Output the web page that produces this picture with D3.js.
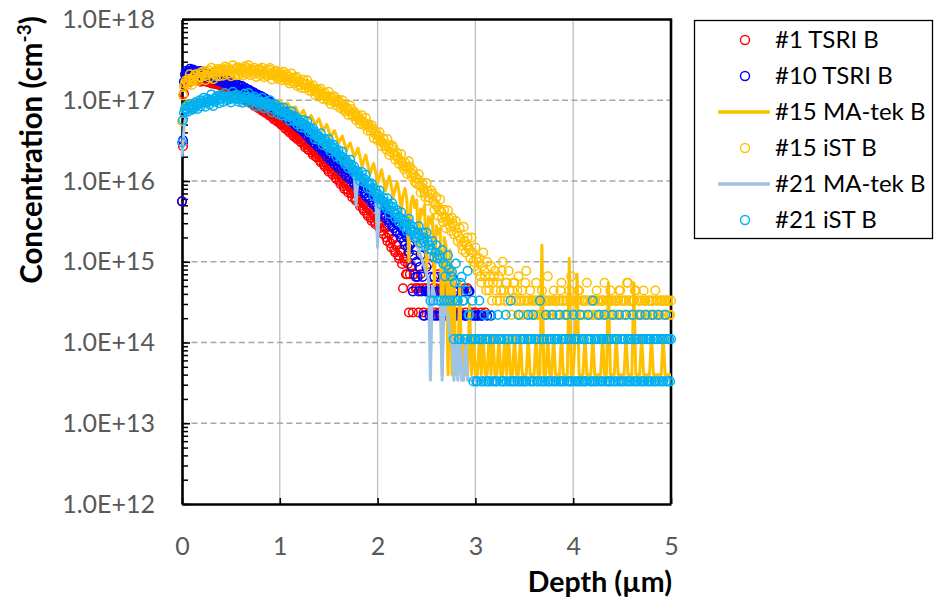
<!DOCTYPE html>
<html>
<head>
<meta charset="utf-8">
<script src="https://cdn.jsdelivr.net/npm/d3@7"></script>
<style>
  html, body { margin: 0; padding: 0; background: #fff; }
  svg { display: block; font-family: Lato, "Open Sans", sans-serif; }
</style>
</head>
<body>
<svg id="chart" width="935" height="603"></svg>
<script>
// Boron SIMS depth profiles. Marker series are sampled every 0.01 µm, line series every 0.02 µm.
// A value of 0 means below detection (not drawn on the log axis).
const markerStep = 0.01;
const lineStep = 0.02;
const depthTicks = [0, 1, 2, 3, 4, 5];
const concTicks = [1e12, 1e13, 1e14, 1e15, 1e16, 1e17, 1e18];
const concTickLabels = ["1.0E+12", "1.0E+13", "1.0E+14", "1.0E+15", "1.0E+16", "1.0E+17", "1.0E+18"];

const seriesNames = ["#1 TSRI B", "#10 TSRI B", "#15 MA-tek B", "#15 iST B", "#21 MA-tek B", "#21 iST B"];
const seriesColors = ["#FF0000", "#0000FF", "#FFC000", "#FFC000", "#9DC3E6", "#00B0F0"];
const seriesKinds = ["circle", "circle", "line", "circle", "line", "circle"];

// #1 TSRI B (cm-3), 0.00 – 3.10 µm
const tsri1B = [
  5.6e15, 2.7e16, 1.2e17, 1.6e17, 1.75e17, 1.85e17, 1.95e17, 1.78e17, 1.7e17, 1.88e17,
  1.9e17, 1.76e17, 1.8e17, 1.95e17, 2.0e17, 1.8e17, 1.75e17, 1.9e17, 1.85e17, 1.7e17,
  1.85e17, 1.78e17, 1.72e17, 1.84e17, 1.9e17, 1.74e17, 1.68e17, 1.78e17, 1.8e17, 1.66e17,
  1.62e17, 1.72e17, 1.75e17, 1.6e17, 1.58e17, 1.68e17, 1.7e17, 1.56e17, 1.55e17, 1.6e17,
  1.55e17, 1.47e17, 1.42e17, 1.52e17, 1.5e17, 1.38e17, 1.35e17, 1.44e17, 1.45e17, 1.33e17,
  1.3e17, 1.36e17, 1.38e17, 1.26e17, 1.22e17, 1.31e17, 1.3e17, 1.18e17, 1.15e17, 1.22e17,
  1.2e17, 1.1e17, 1.08e17, 1.16e17, 1.12e17, 1.02e17, 9.8e16, 1.05e17, 1.05e17, 9.5e16,
  9.2e16, 9.9e16, 9.8e16, 8.9e16, 8.5e16, 9.1e16, 9.0e16, 8.2e16, 8.0e16, 8.6e16,
  8.4e16, 7.7e16, 7.4e16, 8.0e16, 7.9e16, 7.1e16, 6.9e16, 7.4e16, 7.3e16, 6.6e16,
  6.4e16, 6.9e16, 6.8e16, 6.1e16, 5.8e16, 6.3e16, 6.2e16, 5.6e16, 5.4e16, 5.8e16,
  5.6e16, 5.1e16, 4.9e16, 5.3e16, 5.1e16, 4.6e16, 4.4e16, 4.8e16, 4.7e16, 4.2e16,
  4.0e16, 4.4e16, 4.3e16, 3.8e16, 3.6e16, 4.0e16, 3.9e16, 3.4e16, 3.3e16, 3.6e16,
  3.5e16, 3.1e16, 3.0e16, 3.3e16, 3.2e16, 2.8e16, 2.6e16, 2.9e16, 2.8e16, 2.45e16,
  2.4e16, 2.7e16, 2.6e16, 2.25e16, 2.1e16, 2.35e16, 2.3e16, 2.0e16, 1.95e16, 2.15e16,
  2.1e16, 1.8e16, 1.7e16, 1.95e16, 1.85e16, 1.6e16, 1.5e16, 1.72e16, 1.65e16, 1.4e16,
  1.3e16, 1.5e16, 1.5e16, 1.3e16, 1.2e16, 1.4e16, 1.3e16, 1.1e16, 1.05e16, 1.2e16,
  1.2e16, 1.0e16, 9.2e15, 1.1e16, 1.05e16, 8.6e15, 8.0e15, 9.3e15, 9.4e15, 7.8e15,
  7.2e15, 8.4e15, 8.5e15, 7.0e15, 6.3e15, 7.5e15, 7.3e15, 6.0e15, 5.7e15, 6.8e15,
  6.6e15, 5.4e15, 4.9e15, 5.9e15, 5.6e15, 4.6e15, 4.3e15, 5.2e15, 5.0e15, 4.0e15,
  3.7e15, 4.5e15, 4.4e15, 3.5e15, 3.2e15, 4.0e15, 3.8e15, 3.1e15, 2.9e15, 3.4e15,
  3.6e15, 2.9e15, 2.6e15, 3.1e15, 3.0e15, 2.4e15, 2.2e15, 2.7e15, 2.6e15, 2.0e15,
  1.8e15, 2.3e15, 2.2e15, 1.7e15, 1.5e15, 1.9e15, 1.9e15, 1.4e15, 1.3e15, 1.6e15,
  1.6e15, 1.2e15, 1.1e15, 1.4e15, 1.3e15, 9.4e14, 4.7e14, 1.1e15, 1.0e15, 7.0e14,
  7.0e14, 9.4e14, 2.35e14, 7.0e14, 9.0e14, 4.7e14, 2.35e14, 7.0e14, 7.0e14, 4.7e14,
  4.7e14, 0, 2.35e14, 4.7e14, 7.0e14, 0, 4.7e14, 2.35e14, 0, 4.7e14,
  4.7e14, 0, 9.4e14, 2.35e14, 2.35e14, 0, 4.7e14, 4.7e14, 0, 2.35e14,
  4.7e14, 0, 7.0e14, 2.35e14, 2.35e14, 4.7e14, 0, 0, 4.7e14, 2.35e14,
  2.35e14, 0, 0, 4.7e14, 4.7e14, 0, 0, 2.35e14, 2.35e14, 0,
  0, 2.35e14, 4.7e14, 0, 2.35e14, 0, 0, 0, 0, 4.7e14,
  2.35e14, 0, 4.7e14, 0, 0, 0, 2.35e14, 0, 0, 2.35e14,
  2.35e14, 0, 0, 0, 0, 0, 2.35e14, 0, 0, 0, 2.35e14
];

// #10 TSRI B (cm-3), 0.00 – 3.16 µm
const tsri10B = [
  5.6e15, 3.2e16, 1.7e17, 2.1e17, 2.3e17, 2.2e17, 2.05e17, 2.3e17, 2.45e17, 2.25e17,
  2.15e17, 2.4e17, 2.35e17, 2.1e17, 2.0e17, 2.3e17, 2.25e17, 2.05e17, 2.1e17, 2.3e17,
  2.1e17, 2.0e17, 2.25e17, 2.15e17, 1.95e17, 2.2e17, 2.1e17, 1.92e17, 1.88e17, 2.1e17,
  2.05e17, 1.86e17, 1.82e17, 2.0e17, 1.95e17, 1.78e17, 1.75e17, 1.93e17, 1.9e17, 1.7e17,
  1.72e17, 1.88e17, 1.85e17, 1.64e17, 1.65e17, 1.8e17, 1.75e17, 1.58e17, 1.55e17, 1.72e17,
  1.68e17, 1.52e17, 1.5e17, 1.64e17, 1.6e17, 1.44e17, 1.42e17, 1.56e17, 1.52e17, 1.38e17,
  1.36e17, 1.5e17, 1.48e17, 1.32e17, 1.3e17, 1.42e17, 1.38e17, 1.24e17, 1.22e17, 1.34e17,
  1.3e17, 1.18e17, 1.15e17, 1.26e17, 1.22e17, 1.1e17, 1.08e17, 1.18e17, 1.14e17, 1.03e17,
  1.02e17, 1.12e17, 1.1e17, 9.9e16, 9.6e16, 1.05e17, 1.02e17, 9.2e16, 8.8e16, 9.7e16,
  9.5e16, 8.5e16, 8.2e16, 9.1e16, 8.8e16, 7.9e16, 7.6e16, 8.4e16, 8.1e16, 7.3e16,
  7.2e16, 8.0e16, 7.8e16, 6.9e16, 6.6e16, 7.3e16, 7.0e16, 6.2e16, 5.9e16, 6.6e16,
  6.4e16, 5.6e16, 5.4e16, 6.0e16, 5.8e16, 5.1e16, 4.9e16, 5.5e16, 5.2e16, 4.6e16,
  4.5e16, 5.0e16, 4.9e16, 4.3e16, 4.1e16, 4.6e16, 4.4e16, 3.8e16, 3.6e16, 4.1e16,
  3.9e16, 3.4e16, 3.2e16, 3.6e16, 3.5e16, 3.0e16, 2.9e16, 3.3e16, 3.1e16, 2.7e16,
  2.6e16, 3.0e16, 2.9e16, 2.5e16, 2.3e16, 2.7e16, 2.6e16, 2.2e16, 2.0e16, 2.35e16,
  2.3e16, 1.95e16, 1.8e16, 2.1e16, 2.05e16, 1.75e16, 1.6e16, 1.9e16, 1.8e16, 1.55e16,
  1.45e16, 1.7e16, 1.75e16, 1.45e16, 1.3e16, 1.55e16, 1.5e16, 1.25e16, 1.15e16, 1.4e16,
  1.35e16, 1.1e16, 1.05e16, 1.25e16, 1.2e16, 9.8e15, 9.2e15, 1.1e16, 1.05e16, 8.6e15,
  8.2e15, 9.6e15, 9.8e15, 8.0e15, 7.4e15, 8.9e15, 8.6e15, 7.0e15, 6.5e15, 8.0e15,
  7.8e15, 6.2e15, 5.8e15, 7.1e15, 6.8e15, 5.4e15, 5.1e15, 6.3e15, 6.0e15, 4.8e15,
  4.6e15, 5.8e15, 5.6e15, 4.4e15, 4.0e15, 5.0e15, 4.8e15, 3.8e15, 3.5e15, 4.4e15,
  4.2e15, 3.3e15, 3.0e15, 3.8e15, 3.6e15, 2.8e15, 2.6e15, 3.3e15, 3.1e15, 2.4e15,
  2.3e15, 2.9e15, 2.8e15, 2.2e15, 2.0e15, 2.6e15, 2.4e15, 1.8e15, 1.6e15, 2.1e15,
  2.0e15, 1.5e15, 1.3e15, 1.6e15, 1.7e15, 8.6e14, 4.3e14, 1.2e15, 1.4e15, 6.5e14,
  1.0e15, 6.5e14, 4.3e14, 8.6e14, 1.2e15, 4.3e14, 6.5e14, 2.15e14, 2.15e14, 4.3e14,
  8.6e14, 4.3e14, 4.3e14, 2.15e14, 4.3e14, 6.5e14, 2.15e14, 4.3e14, 6.5e14, 2.15e14,
  4.3e14, 2.15e14, 6.5e14, 4.3e14, 2.15e14, 2.15e14, 4.3e14, 6.5e14, 2.15e14, 4.3e14,
  4.3e14, 2.15e14, 2.15e14, 4.3e14, 4.3e14, 2.15e14, 6.5e14, 2.15e14, 4.3e14, 2.15e14,
  2.15e14, 4.3e14, 4.3e14, 2.15e14, 2.15e14, 0, 0, 4.3e14, 4.3e14, 2.15e14,
  2.15e14, 0, 2.15e14, 4.3e14, 4.3e14, 2.15e14, 0, 0, 2.15e14, 0,
  2.15e14, 0, 2.15e14, 2.15e14, 0, 0, 2.15e14, 2.15e14, 0, 0,
  0, 0, 2.15e14, 0, 0, 0, 2.15e14
];

// #15 MA-tek B (cm-3), 0.00 – 5.00 µm
const matek15B = [
  7.0e16, 9.0e16, 9.6e16, 9.8e16, 1.0e17, 9.9e16, 1.01e17, 1.02e17, 1.01e17, 1.03e17,
  1.04e17, 1.03e17, 1.05e17, 1.05e17, 1.04e17, 1.06e17, 1.06e17, 1.05e17, 1.07e17, 1.07e17,
  1.06e17, 1.07e17, 1.08e17, 1.07e17, 1.08e17, 1.08e17, 1.07e17, 1.08e17, 1.07e17, 1.07e17,
  1.06e17, 1.06e17, 1.05e17, 1.05e17, 1.04e17, 1.04e17, 1.03e17, 1.03e17, 1.02e17, 1.02e17,
  1.01e17, 1.02e17, 1.0e17, 9.9e16, 1.01e17, 9.9e16, 9.6e16, 9.9e16, 9.5e16, 9.3e16,
  9.9e16, 9.0e16, 8.1e16, 8.7e16, 9.2e16, 8.3e16, 7.5e16, 7.9e16, 8.3e16, 7.4e16,
  6.3e16, 6.9e16, 7.5e16, 6.6e16, 5.8e16, 6.0e16, 6.5e16, 5.75e16, 5.0e16, 5.4e16,
  5.9e16, 5.0e16, 4.2e16, 4.6e16, 5.0e16, 4.2e16, 3.5e16, 3.85e16, 4.2e16, 3.55e16,
  2.9e16, 3.25e16, 3.6e16, 2.95e16, 2.35e16, 2.7e16, 2.95e16, 2.45e16, 2.0e16, 2.2e16,
  2.55e16, 2.0e16, 1.5e16, 1.8e16, 2.1e16, 1.6e16, 1.2e16, 1.42e16, 1.65e16, 1.27e16,
  9.0e15, 1.15e16, 1.38e16, 1.05e16, 7.5e15, 9.5e15, 1.14e16, 8.7e15, 6.2e15, 7.9e15,
  9.8e15, 7.2e15, 4.1e15, 6.6e15, 8.1e15, 5.8e15, 1.0e15, 5.2e15, 6.5e15, 4.7e15,
  5.8e15, 1.2e15, 4.5e15, 3.9e15, 5.0e15, 7.0e14, 3.6e15, 3.0e15, 3.8e15, 5.0e14,
  2.8e15, 2.2e15, 2.6e15, 4.0e13, 2.0e15, 1.6e15, 4.0e13, 1.4e15, 4.0e13, 8.0e14,
  4.0e13, 4.0e13, 6.0e14, 4.0e13, 1.2e14, 4.0e13, 4.0e13, 3.0e14, 4.0e13, 1.2e14,
  4.0e13, 4.0e13, 1.2e14, 4.0e13, 1.2e14, 4.0e13, 4.0e13, 1.2e14, 4.0e13, 1.2e14,
  4.0e13, 4.0e13, 1.2e14, 4.0e13, 4.0e13, 1.2e14, 4.0e13, 1.2e14, 4.0e13, 4.0e13,
  1.2e14, 4.0e13, 4.0e13, 1.2e14, 4.0e13, 4.0e13, 4.0e13, 1.2e14, 4.0e13, 4.0e13,
  4.0e13, 1.2e14, 4.0e13, 4.0e13, 1.6e15, 4.0e13, 4.0e13, 1.2e14, 4.0e13, 4.0e13,
  1.2e14, 4.0e13, 4.0e13, 4.0e13, 1.2e14, 4.0e13, 4.0e13, 4.0e13, 1.1e15, 4.0e13,
  4.0e13, 1.2e14, 7.0e14, 4.0e13, 4.0e13, 4.0e13, 1.2e14, 4.0e13, 4.0e13, 4.0e13,
  1.2e14, 4.0e13, 4.0e13, 4.0e13, 4.0e13, 1.2e14, 4.0e13, 4.0e13, 5.5e14, 4.0e13,
  4.0e13, 4.0e13, 1.2e14, 4.0e13, 4.0e13, 4.0e13, 4.0e13, 1.2e14, 4.0e13, 4.0e13,
  4.0e13, 5.5e14, 4.0e13, 4.0e13, 4.0e13, 1.2e14, 4.0e13, 4.0e13, 4.0e13, 4.0e13,
  1.2e14, 4.0e13, 4.0e13, 4.0e13, 4.0e13, 4.0e13, 1.2e14, 4.0e13, 4.0e13, 4.0e13,
  4.0e13
];

// #15 iST B (cm-3), 0.00 – 5.00 µm
const ist15B = [
  5.5e16, 1.15e17, 1.5e17, 1.6e17, 1.75e17, 1.68e17, 1.56e17, 1.85e17, 2.1e17, 1.8e17,
  1.55e17, 1.75e17, 1.93e17, 2.05e17, 2.1e17, 1.82e17, 1.73e17, 1.95e17, 1.95e17, 2.2e17,
  1.95e17, 2.1e17, 2.28e17, 2.0e17, 1.77e17, 2.05e17, 2.2e17, 2.35e17, 1.9e17, 2.15e17,
  2.52e17, 2.2e17, 1.83e17, 2.1e17, 2.27e17, 2.0e17, 2.44e17, 2.3e17, 1.98e17, 2.25e17,
  2.44e17, 2.3e17, 2.02e17, 2.4e17, 2.61e17, 2.25e17, 2.12e17, 2.5e17, 2.36e17, 2.15e17,
  1.98e17, 2.35e17, 2.7e17, 2.4e17, 2.21e17, 2.05e17, 2.48e17, 2.55e17, 2.05e17, 2.3e17,
  2.42e17, 2.2e17, 2.02e17, 2.45e17, 2.62e17, 2.3e17, 2.13e17, 2.5e17, 2.71e17, 2.25e17,
  2.04e17, 2.4e17, 2.31e17, 2.12e17, 2.52e17, 2.35e17, 1.95e17, 2.2e17, 2.36e17, 2.45e17,
  2.04e17, 2.3e17, 2.53e17, 2.15e17, 1.93e17, 2.2e17, 2.34e17, 2.0e17, 2.04e17, 2.38e17,
  2.51e17, 2.1e17, 1.81e17, 2.05e17, 2.17e17, 2.28e17, 2.32e17, 1.98e17, 1.84e17, 2.1e17,
  2.2e17, 1.95e17, 1.77e17, 2.05e17, 2.25e17, 1.9e17, 1.8e17, 2.1e17, 1.96e17, 1.75e17,
  1.61e17, 1.85e17, 2.14e17, 1.9e17, 1.7e17, 1.62e17, 1.87e17, 1.95e17, 1.5e17, 1.68e17,
  1.73e17, 1.55e17, 1.42e17, 1.65e17, 1.79e17, 1.55e17, 1.42e17, 1.6e17, 1.77e17, 1.45e17,
  1.31e17, 1.5e17, 1.44e17, 1.3e17, 1.53e17, 1.38e17, 1.16e17, 1.28e17, 1.37e17, 1.22e17,
  1.15e17, 1.3e17, 1.39e17, 1.18e17, 1.04e17, 1.15e17, 1.23e17, 1.12e17, 1.05e17, 1.0e17,
  1.27e17, 1.1e17, 9.0e16, 9.8e16, 1.06e17, 1.12e17, 1.1e17, 9.5e16, 8.6e16, 9.8e16,
  1.01e17, 9.2e16, 8.0e16, 8.8e16, 1.0e17, 8.5e16, 7.7e16, 7.2e16, 8.2e16, 7.8e16,
  6.6e16, 7.4e16, 8.6e16, 7.8e16, 6.7e16, 6.3e16, 7.2e16, 6.8e16, 5.7e16, 6.2e16,
  6.5e16, 5.8e16, 5.1e16, 5.6e16, 6.5e16, 5.5e16, 4.9e16, 5.2e16, 6.0e16, 5.0e16,
  4.2e16, 5.0e16, 4.6e16, 4.2e16, 4.9e16, 4.4e16, 3.4e16, 3.9e16, 4.1e16, 3.7e16,
  3.2e16, 3.6e16, 4.0e16, 3.1e16, 2.7e16, 3.0e16, 3.3e16, 2.8e16, 2.7e16, 2.45e16,
  3.3e16, 2.8e16, 2.1e16, 2.3e16, 2.5e16, 2.75e16, 2.6e16, 2.1e16, 1.85e16, 2.05e16,
  2.24e16, 1.9e16, 1.63e16, 1.8e16, 2.16e16, 1.7e16, 1.53e16, 1.4e16, 1.68e16, 1.5e16,
  1.23e16, 1.45e16, 1.75e16, 1.5e16, 1.25e16, 1.12e16, 1.36e16, 1.2e16, 9.8e15, 1.1e16,
  9.2e15, 1.05e16, 1.21e16, 8.8e15, 7.2e15, 8.4e15, 9.5e15, 8.0e15, 7.1e15, 6.3e15,
  9.4e15, 7.5e15, 5.7e15, 6.2e15, 6.8e15, 7.6e15, 7.0e15, 5.5e15, 4.4e15, 5.2e15,
  6.3e15, 4.8e15, 3.7e15, 4.4e15, 5.9e15, 4.2e15, 3.5e15, 3.1e15, 4.4e15, 3.6e15,
  2.6e15, 3.2e15, 4.3e15, 3.4e15, 2.8e15, 2.4e15, 3.5e15, 3.0e15, 2.2e15, 2.7e15,
  3.2e15, 2.3e15, 1.8e15, 2.1e15, 2.6e15, 1.9e15, 1.6e15, 1.4e15, 2.7e15, 1.8e15,
  1.3e15, 1.6e15, 2.0e15, 1.5e15, 1.4e15, 1.1e15, 2.0e15, 1.3e15, 1.0e15, 8.8e14,
  1.5e15, 1.1e15, 7.7e14, 9.9e14, 1.1e15, 6.6e14, 5.5e14, 8.8e14, 1.3e15, 7.7e14,
  6.6e14, 4.4e14, 9.9e14, 5.5e14, 4.4e14, 6.6e14, 8.8e14, 3.3e14, 5.5e14, 6.6e14,
  7.7e14, 4.4e14, 3.3e14, 5.5e14, 6.6e14, 3.3e14, 4.4e14, 7.7e14, 1.0e15, 4.4e14,
  3.3e14, 5.5e14, 5.5e14, 3.3e14, 7.7e14, 4.4e14, 3.3e14, 2.2e14, 4.4e14, 5.5e14,
  5.5e14, 3.3e14, 3.3e14, 4.4e14, 6.6e14, 3.3e14, 2.2e14, 3.3e14, 4.4e14, 2.2e14,
  3.3e14, 5.5e14, 7.7e14, 3.3e14, 2.2e14, 3.3e14, 4.4e14, 2.2e14, 3.3e14, 3.3e14,
  3.3e14, 2.2e14, 5.5e14, 3.3e14, 2.2e14, 3.3e14, 3.3e14, 2.2e14, 4.4e14, 3.3e14,
  2.2e14, 3.3e14, 3.3e14, 2.2e14, 6.6e14, 3.3e14, 3.3e14, 2.2e14, 2.2e14, 3.3e14,
  4.4e14, 3.3e14, 3.3e14, 2.2e14, 2.2e14, 3.3e14, 3.3e14, 4.4e14, 5.5e14, 3.3e14,
  3.3e14, 2.2e14, 2.2e14, 3.3e14, 3.3e14, 2.2e14, 4.4e14, 3.3e14, 6.6e14, 3.3e14,
  3.3e14, 2.2e14, 2.2e14, 3.3e14, 3.3e14, 4.4e14, 4.4e14, 2.2e14, 2.2e14, 3.3e14,
  3.3e14, 2.2e14, 3.3e14, 3.3e14, 5.5e14, 3.3e14, 2.2e14, 2.2e14, 3.3e14, 3.3e14,
  2.2e14, 3.3e14, 3.3e14, 2.2e14, 4.4e14, 3.3e14, 3.3e14, 2.2e14, 2.2e14, 3.3e14,
  3.3e14, 3.3e14, 5.5e14, 2.2e14, 2.2e14, 3.3e14, 3.3e14, 2.2e14, 4.4e14, 3.3e14,
  3.3e14, 2.2e14, 2.2e14, 3.3e14, 3.3e14, 2.2e14, 3.3e14, 4.4e14, 4.4e14, 3.3e14,
  2.2e14, 3.3e14, 3.3e14, 2.2e14, 3.3e14, 5.5e14, 5.5e14, 3.3e14, 3.3e14, 2.2e14,
  2.2e14, 3.3e14, 3.3e14, 4.4e14, 4.4e14, 2.2e14, 2.2e14, 3.3e14, 3.3e14, 2.2e14,
  2.2e14, 3.3e14, 4.4e14, 3.3e14, 3.3e14, 2.2e14, 2.2e14, 3.3e14, 3.3e14, 2.2e14,
  3.3e14, 3.3e14, 2.2e14, 2.2e14, 4.4e14, 3.3e14, 3.3e14, 2.2e14, 2.2e14, 3.3e14,
  3.3e14, 3.3e14, 2.2e14, 3.3e14, 3.3e14, 2.2e14, 3.3e14, 3.3e14, 2.2e14, 2.2e14,
  3.3e14
];

// #21 MA-tek B (cm-3), 0.00 – 5.00 µm
const matek21B = [
  2.0e16, 4.5e16, 6.5e16, 7.2e16, 7.6e16, 7.9e16, 8.1e16, 8.3e16, 8.5e16, 8.6e16,
  8.8e16, 9.0e16, 9.1e16, 9.3e16, 9.4e16, 9.6e16, 9.7e16, 9.8e16, 9.9e16, 1.0e17,
  1.01e17, 1.02e17, 1.02e17, 1.03e17, 1.03e17, 1.04e17, 1.04e17, 1.04e17, 1.03e17, 1.03e17,
  1.02e17, 1.02e17, 1.01e17, 1.0e17, 9.9e16, 9.8e16, 9.6e16, 9.5e16, 9.3e16, 9.2e16,
  9.0e16, 8.8e16, 8.6e16, 8.4e16, 8.2e16, 8.0e16, 7.8e16, 7.6e16, 7.4e16, 7.2e16,
  7.0e16, 6.8e16, 6.6e16, 6.4e16, 6.2e16, 6.0e16, 5.8e16, 5.6e16, 5.4e16, 5.2e16,
  5.0e16, 4.8e16, 4.6e16, 4.4e16, 4.2e16, 4.0e16, 3.8e16, 3.7e16, 3.5e16, 3.3e16,
  3.2e16, 3.0e16, 2.9e16, 2.7e16, 2.6e16, 2.5e16, 2.4e16, 2.2e16, 2.1e16, 2.0e16,
  1.9e16, 1.8e16, 1.75e16, 1.65e16, 1.55e16, 1.5e16, 1.4e16, 1.3e16, 1.25e16, 5.0e15,
  1.15e16, 1.1e16, 1.05e16, 9.8e15, 9.2e15, 8.7e15, 8.2e15, 7.7e15, 7.2e15, 6.8e15,
  1.5e15, 6.2e15, 5.9e15, 5.5e15, 5.2e15, 4.9e15, 4.6e15, 4.3e15, 4.1e15, 3.8e15,
  3.6e15, 3.4e15, 3.2e15, 3.0e15, 2.8e15, 2.6e15, 2.4e15, 2.2e15, 2.0e15, 1.8e15,
  1.6e15, 1.4e15, 1.2e15, 1.0e15, 8.5e14, 7.0e14, 6.0e14, 3.4e13, 5.0e14, 4.0e14,
  3.3e14, 3.3e14, 3.3e14, 3.4e13, 3.3e14, 2.2e14, 2.2e14, 1.1e14, 1.1e14, 3.4e13,
  1.1e14, 3.4e13, 1.1e14, 3.4e13, 3.4e13, 1.1e14, 3.4e13, 3.4e13, 3.4e13, 3.4e13,
  3.4e13, 3.4e13, 3.4e13, 3.4e13, 3.4e13, 3.4e13, 3.4e13, 3.4e13, 3.4e13, 3.4e13,
  3.4e13, 3.4e13, 3.4e13, 3.4e13, 3.4e13, 3.4e13, 3.4e13, 3.4e13, 3.4e13, 3.4e13,
  3.4e13, 3.4e13, 3.4e13, 3.4e13, 3.4e13, 3.4e13, 3.4e13, 3.4e13, 3.4e13, 3.4e13,
  3.4e13, 3.4e13, 3.4e13, 3.4e13, 3.4e13, 3.4e13, 3.4e13, 3.4e13, 3.4e13, 3.4e13,
  3.4e13, 3.4e13, 3.4e13, 3.4e13, 3.4e13, 3.4e13, 3.4e13, 3.4e13, 3.4e13, 3.4e13,
  3.4e13, 3.4e13, 3.4e13, 3.4e13, 3.4e13, 3.4e13, 3.4e13, 3.4e13, 3.4e13, 3.4e13,
  3.4e13, 3.4e13, 3.4e13, 3.4e13, 3.4e13, 3.4e13, 3.4e13, 3.4e13, 3.4e13, 3.4e13,
  3.4e13, 3.4e13, 3.4e13, 3.4e13, 3.4e13, 3.4e13, 3.4e13, 3.4e13, 3.4e13, 3.4e13,
  3.4e13, 3.4e13, 3.4e13, 3.4e13, 3.4e13, 3.4e13, 3.4e13, 3.4e13, 3.4e13, 3.4e13,
  3.4e13, 3.4e13, 3.4e13, 3.4e13, 3.4e13, 3.4e13, 3.4e13, 3.4e13, 3.4e13, 3.4e13,
  3.4e13
];

// #21 iST B (cm-3), 0.00 – 5.00 µm
const ist21B = [
  3.0e16, 5.7e16, 7.0e16, 7.8e16, 8.4e16, 7.6e16, 7.2e16, 8.2e16, 8.9e16, 8.0e16,
  7.6e16, 8.8e16, 8.5e16, 8.0e16, 9.4e16, 8.6e16, 7.8e16, 9.0e16, 1.0e17, 8.4e16,
  9.2e16, 9.9e16, 1.07e17, 9.5e16, 8.3e16, 9.4e16, 1.04e17, 9.7e16, 8.9e16, 1.02e17,
  1.18e17, 1.0e17, 8.5e16, 9.6e16, 1.05e17, 1.1e17, 1.13e17, 1.0e17, 9.2e16, 1.05e17,
  1.16e17, 1.05e17, 9.5e16, 1.1e17, 1.23e17, 1.12e17, 1.0e17, 1.06e17, 1.11e17, 1.03e17,
  9.4e16, 1.08e17, 1.27e17, 1.14e17, 1.04e17, 1.1e17, 1.17e17, 1.06e17, 9.6e16, 1.02e17,
  1.12e17, 1.03e17, 9.3e16, 1.05e17, 1.2e17, 1.08e17, 9.7e16, 1.1e17, 1.23e17, 1.02e17,
  9.2e16, 9.9e16, 1.02e17, 1.06e17, 1.11e17, 9.6e16, 8.4e16, 9.3e16, 1.02e17, 9.5e16,
  8.7e16, 9.6e16, 1.07e17, 9.2e16, 8.0e16, 8.8e16, 9.6e16, 8.9e16, 8.3e16, 9.1e16,
  1.0e17, 8.6e16, 7.1e16, 7.8e16, 8.4e16, 8.9e16, 8.8e16, 7.7e16, 6.8e16, 7.5e16,
  8.1e16, 7.2e16, 6.5e16, 7.4e16, 8.1e16, 7.0e16, 6.4e16, 6.8e16, 6.9e16, 6.2e16,
  5.6e16, 6.4e16, 7.3e16, 6.5e16, 5.8e16, 5.5e16, 6.3e16, 5.9e16, 5.0e16, 5.5e16,
  5.7e16, 5.1e16, 4.6e16, 5.2e16, 5.7e16, 5.0e16, 4.5e16, 4.9e16, 5.5e16, 4.6e16,
  4.0e16, 4.5e16, 4.3e16, 3.9e16, 4.5e16, 4.1e16, 3.3e16, 3.6e16, 3.8e16, 3.5e16,
  3.2e16, 3.5e16, 3.9e16, 3.3e16, 2.8e16, 3.0e16, 3.3e16, 3.1e16, 2.8e16, 2.6e16,
  3.3e16, 2.9e16, 2.3e16, 2.5e16, 2.6e16, 2.8e16, 2.6e16, 2.3e16, 2.0e16, 2.2e16,
  2.4e16, 2.1e16, 1.85e16, 2.0e16, 2.3e16, 1.95e16, 1.74e16, 1.6e16, 1.82e16, 1.7e16,
  1.44e16, 1.6e16, 1.83e16, 1.6e16, 1.41e16, 1.3e16, 1.51e16, 1.35e16, 1.17e16, 1.28e16,
  1.31e16, 1.15e16, 1.01e16, 1.12e16, 1.29e16, 1.08e16, 9.7e15, 1.05e16, 1.19e16, 9.4e15,
  8.1e15, 9.5e15, 8.9e15, 7.9e15, 9.3e15, 8.2e15, 6.5e15, 7.2e15, 7.8e15, 7.0e15,
  6.1e15, 6.8e15, 7.6e15, 6.0e15, 5.1e15, 5.7e15, 6.2e15, 5.5e15, 5.0e15, 4.6e15,
  6.1e15, 5.2e15, 3.9e15, 4.4e15, 4.7e15, 5.3e15, 4.8e15, 4.1e15, 3.5e15, 3.9e15,
  4.3e15, 3.6e15, 3.1e15, 3.5e15, 4.1e15, 3.4e15, 2.9e15, 2.7e15, 3.2e15, 2.9e15,
  2.4e15, 2.8e15, 3.4e15, 2.9e15, 2.5e15, 2.3e15, 2.7e15, 2.4e15, 2.0e15, 2.2e15,
  2.0e15, 2.3e15, 2.75e15, 2.1e15, 1.7e15, 1.9e15, 2.3e15, 2.0e15, 1.75e15, 1.55e15,
  2.3e15, 1.8e15, 1.45e15, 1.6e15, 3.3e14, 1.4e15, 1.8e15, 3.3e14, 1.15e15, 1.3e15,
  1.6e15, 1.1e15, 3.3e14, 1.2e15, 1.1e15, 3.3e14, 1.4e15, 9.5e14, 3.3e14, 6.6e14,
  9.0e14, 3.3e14, 1.2e15, 8.0e14, 3.3e14, 6.6e14, 7.5e14, 3.3e14, 1.1e14, 5.5e14,
  9.5e14, 3.3e14, 3.3e14, 1.1e14, 1.1e14, 5.5e14, 6.5e14, 3.3e14, 3.3e14, 1.1e14,
  1.1e14, 4.4e14, 7.7e14, 2.2e14, 2.2e14, 1.1e14, 1.1e14, 3.3e14, 3.3e13, 1.1e14,
  1.1e14, 3.3e13, 3.3e13, 1.1e14, 3.3e14, 1.1e14, 3.3e13, 1.1e14, 3.3e13, 2.2e14,
  1.1e14, 3.3e13, 1.1e14, 3.3e13, 3.3e13, 1.1e14, 2.2e14, 3.3e13, 1.1e14, 3.3e13,
  1.1e14, 3.3e13, 3.3e13, 2.2e14, 1.1e14, 1.1e14, 3.3e13, 1.1e14, 3.3e13, 3.3e13,
  1.1e14, 2.2e14, 3.3e13, 1.1e14, 1.1e14, 3.3e13, 3.3e14, 3.3e13, 1.1e14, 3.3e13,
  3.3e13, 1.1e14, 1.1e14, 3.3e13, 2.2e14, 3.3e13, 1.1e14, 3.3e13, 1.1e14, 3.3e13,
  1.1e14, 3.3e13, 3.3e13, 1.1e14, 2.2e14, 1.1e14, 3.3e13, 1.1e14, 3.3e13, 2.2e14,
  3.3e13, 1.1e14, 1.1e14, 3.3e13, 3.3e13, 1.1e14, 3.3e14, 3.3e13, 1.1e14, 3.3e13,
  1.1e14, 3.3e13, 2.2e14, 1.1e14, 3.3e13, 3.3e13, 1.1e14, 3.3e13, 1.1e14, 2.2e14,
  3.3e13, 1.1e14, 3.3e13, 1.1e14, 1.1e14, 3.3e13, 2.2e14, 3.3e13, 1.1e14, 3.3e13,
  1.1e14, 3.3e13, 1.1e14, 2.2e14, 3.3e13, 1.1e14, 3.3e13, 3.3e13, 1.1e14, 3.3e13,
  2.2e14, 1.1e14, 3.3e13, 1.1e14, 3.3e13, 1.1e14, 3.3e13, 2.2e14, 3.3e13, 1.1e14,
  3.3e13, 1.1e14, 3.3e13, 3.3e13, 1.1e14, 2.2e14, 1.1e14, 3.3e13, 1.1e14, 3.3e13,
  3.3e14, 3.3e13, 1.1e14, 3.3e13, 1.1e14, 3.3e13, 2.2e14, 1.1e14, 3.3e13, 1.1e14,
  3.3e13, 1.1e14, 2.2e14, 3.3e13, 1.1e14, 3.3e13, 1.1e14, 3.3e13, 3.3e13, 1.1e14,
  2.2e14, 3.3e13, 1.1e14, 3.3e13, 1.1e14, 1.1e14, 3.3e13, 2.2e14, 3.3e13, 1.1e14,
  3.3e13, 1.1e14, 3.3e13, 1.1e14, 2.2e14, 3.3e13, 1.1e14, 3.3e13, 1.1e14, 3.3e13,
  1.1e14, 2.2e14, 3.3e13, 1.1e14, 3.3e13, 1.1e14, 3.3e13, 1.1e14, 2.2e14, 3.3e13,
  1.1e14, 3.3e13, 1.1e14, 3.3e13, 2.2e14, 1.1e14, 3.3e13, 1.1e14, 3.3e13, 1.1e14,
  3.3e13, 2.2e14, 1.1e14, 3.3e13, 1.1e14, 3.3e13, 1.1e14, 2.2e14, 3.3e13, 1.1e14,
  3.3e13, 1.1e14, 3.3e13, 1.1e14, 2.2e14, 3.3e13, 1.1e14, 3.3e13, 1.1e14, 3.3e13,
  1.1e14
];

const seriesValues = [tsri1B, tsri10B, matek15B, ist15B, matek21B, ist21B];
const seriesSteps = [markerStep, markerStep, lineStep, markerStep, lineStep, markerStep];

const FONT = 'Lato, "Open Sans", sans-serif';
const svg = d3.select("#chart");
svg.append("rect").attr("width", 935).attr("height", 603).attr("fill", "#fff");

const x = d3.scaleLinear().domain([0, 5]).range([182, 671]);
const y = d3.scaleLog().domain([1e12, 1e18]).range([504, 19.5]);

// Gridlines: solid verticals, dashed decade horizontals
svg.append("g").selectAll("line")
  .data(depthTicks.slice(1, -1)).join("line")
  .attr("x1", d => x(d)).attr("x2", d => x(d))
  .attr("y1", y(1e12)).attr("y2", y(1e18))
  .attr("stroke", "#BFBFBF").attr("stroke-width", 1.3);
svg.append("g").selectAll("line")
  .data(concTicks.slice(1, -1)).join("line")
  .attr("x1", x(0)).attr("x2", x(5))
  .attr("y1", d => y(d)).attr("y2", d => y(d))
  .attr("stroke", "#A6A6A6").attr("stroke-width", 1.3)
  .attr("stroke-dasharray", "6,3.5");

// Minor log ticks on the concentration axis
const minorTicks = [];
for (let e = 12; e < 18; e++) for (let m = 2; m <= 9; m++) minorTicks.push(m * Math.pow(10, e));
svg.append("g").attr("transform", `translate(${x(0)},0)`)
  .call(d3.axisLeft(y).tickValues(minorTicks).tickSizeInner(-6).tickSizeOuter(0).tickFormat(""))
  .call(g => g.select(".domain").remove())
  .call(g => g.selectAll(".tick line").attr("stroke", "#000").attr("stroke-width", 1.5));

// Concentration axis
const yAxis = svg.append("g").attr("transform", `translate(${x(0)},0)`)
  .call(d3.axisLeft(y).tickValues(concTicks).tickSizeInner(-8).tickSizeOuter(0)
    .tickPadding(27).tickFormat((d, i) => concTickLabels[i]));
yAxis.attr("font-family", FONT).attr("font-size", 25);
yAxis.select(".domain").attr("stroke", "#000").attr("stroke-width", 2.6);
yAxis.selectAll(".tick line").attr("stroke", "#000").attr("stroke-width", 1.6);
yAxis.selectAll(".tick text").attr("fill", "#595959");

// Depth axis
const xAxis = svg.append("g").attr("transform", `translate(0,${y(1e12)})`)
  .call(d3.axisBottom(x).tickValues(depthTicks).tickSizeInner(-6).tickSizeOuter(0)
    .tickPadding(51).tickFormat(d3.format("d")));
xAxis.attr("font-family", FONT).attr("font-size", 25);
xAxis.select(".domain").attr("stroke", "#000").attr("stroke-width", 2.6);
xAxis.selectAll(".tick line").attr("stroke", "#000").attr("stroke-width", 1.6);
xAxis.selectAll(".tick text").attr("fill", "#595959").attr("dy", 0);

// Plot frame (top and right)
svg.append("path")
  .attr("d", `M${x(0)},${y(1e18)}H${x(5)}V${y(1e12)}`)
  .attr("fill", "none").attr("stroke", "#000").attr("stroke-width", 2.6);

// Series, drawn in legend order
const lineGen = d3.line().defined(p => p.v > 0).x(p => x(p.d)).y(p => y(p.v));
seriesValues.forEach((vals, s) => {
  const pts = vals.map((v, i) => ({ d: i * seriesSteps[s], v }));
  const g = svg.append("g");
  if (seriesKinds[s] === "line") {
    g.append("path").datum(pts).attr("d", lineGen)
      .attr("fill", "none").attr("stroke", seriesColors[s])
      .attr("stroke-width", 3).attr("stroke-linejoin", "round");
  } else {
    g.selectAll("circle").data(pts.filter(p => p.v > 0)).join("circle")
      .attr("cx", p => x(p.d)).attr("cy", p => y(p.v)).attr("r", 4.3)
      .attr("fill", "none").attr("stroke", seriesColors[s]).attr("stroke-width", 1.5);
  }
});

// Axis titles
svg.append("text")
  .attr("x", 672).attr("y", 592).attr("text-anchor", "end")
  .attr("font-family", FONT).attr("font-weight", 700).attr("font-size", 28.5)
  .attr("fill", "#000").text("Depth (µm)");
const yTitle = svg.append("text")
  .attr("transform", "translate(42,150) rotate(-90)").attr("text-anchor", "middle")
  .attr("font-family", FONT).attr("font-weight", 700).attr("font-size", 29.5).attr("fill", "#000");
yTitle.append("tspan").text("Concentration (cm");
yTitle.append("tspan").attr("dy", -11).attr("font-size", 19).text("-3");
yTitle.append("tspan").attr("dy", 11).text(")");

// Legend
const legend = svg.append("g");
legend.append("rect").attr("x", 694.5).attr("y", 20.5).attr("width", 238).attr("height", 218)
  .attr("fill", "#fff").attr("stroke", "#000").attr("stroke-width", 1.3);
seriesNames.forEach((name, s) => {
  const cy = 40 + s * 36;
  if (seriesKinds[s] === "line") {
    legend.append("line").attr("x1", 718).attr("x2", 770).attr("y1", cy).attr("y2", cy)
      .attr("stroke", seriesColors[s]).attr("stroke-width", 3.5);
  } else {
    legend.append("circle").attr("cx", 745).attr("cy", cy).attr("r", 4.5)
      .attr("fill", "none").attr("stroke", seriesColors[s]).attr("stroke-width", 1.4);
  }
  legend.append("text").attr("x", 775).attr("y", cy).attr("dy", "0.35em")
    .attr("font-family", FONT).attr("font-size", 24).attr("fill", "#000").text(name);
});
</script>
</body>
</html>
